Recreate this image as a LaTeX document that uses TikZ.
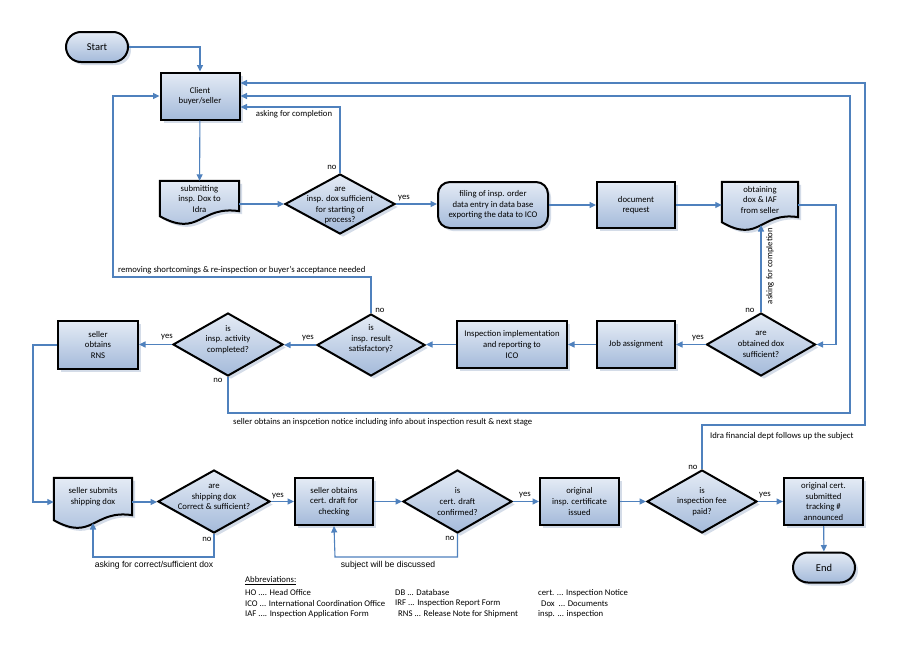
\documentclass[tikz,border=0pt]{standalone}
\usepackage{fontspec}
\setmainfont{Carlito}
\newfontfamily\arialf{Liberation Sans}
\usetikzlibrary{shapes.geometric,arrows.meta,shadows,calc}
\pgfdeclarelayer{background}
\pgfsetlayers{background,main}
\definecolor{conn}{HTML}{4F81BD}
\definecolor{ftop}{HTML}{E4EBF5}
\definecolor{fbot}{HTML}{A4BADA}
\definecolor{shd}{HTML}{D4DCE8}
% #1 node name, #2 half width
\newcommand\mydocshape[2]{%
  \path[shfill, draw=black, line width=2pt, line join=miter]
    (#1.north west) -- (#1.north east) -- ($(#1.south east)+(0,-5)$)
    .. controls ($(#1.south east)+(-#2,-11)$) and ($(#1.south west)+(#2,22)$) .. (#1.south west) -- cycle;}
\tikzset{
  txt/.style={font=\fontsize{8.7}{10.6}\selectfont, align=center, inner sep=0pt},
  lbl/.style={font=\fontsize{8.7}{10.6}\selectfont, inner sep=0pt},
  albl/.style={font=\arialf\fontsize{8.6}{10.6}\selectfont, inner sep=0pt},
  shfill/.style={top color=ftop, bottom color=fbot,
    drop shadow={shadow xshift=3pt, shadow yshift=-3pt, fill=shd, opacity=1}},
  procbox/.style={txt, rectangle, draw=black, line width=2pt, shfill,
    minimum width=79pt, minimum height=47pt},
  docnode/.style={txt, rectangle, inner sep=0pt, minimum width=79pt},
  dia/.style={diamond, draw=black, line width=2pt, shfill, inner sep=0pt,
    minimum width=110pt, minimum height=63pt},
  term/.style={rectangle, rounded corners=15pt, draw=black, line width=2pt, shfill,
    minimum width=62pt, minimum height=30pt, font=\fontsize{10.5}{12}\selectfont},
  conn/.style={draw=conn, line width=1.1pt, -{Triangle[length=6.5pt,width=6pt]}},
}
\begin{document}
\begin{tikzpicture}[x=1pt,y=-1pt]
\useasboundingbox (0,0) rectangle (900,656);

% top part
\node[term] (start) at (97,47) {Start};
\node[procbox] (client) at (200,96) {Client\\buyer/seller};
\node[docnode, minimum height=35pt,
  label={[txt,yshift=-0.5pt]center:{submitting\\insp. Dox to\\Idra}}] (sub) at (199.5,198.5) {};
\node[dia, minimum width=110pt, minimum height=60pt,
  label={[txt,yshift=-1.5pt]center:{are\\insp. dox sufficient\\for starting of\\process?}}] (dia1) at (340,204) {};
\node[procbox, rounded corners=12pt, minimum width=110pt, minimum height=46pt] (filing) at (493,205)
  {filing of insp. order\\data entry in data base\\exporting the data to ICO};
\node[procbox, minimum width=78pt, minimum height=46pt] (docreq) at (636,205) {document\\request};
\node[docnode, minimum width=76pt, minimum height=40pt,
  label={[txt,yshift=2pt]center:{obtaining\\dox \& IAF\\from seller}}] (obtain) at (760,202) {};

% middle row
\node[dia, minimum width=109pt,
  label={[txt]center:{are\\obtained dox\\sufficient?}}] (diaobt) at (761,344.5) {};
\node[procbox, minimum width=78pt] (job) at (636,344.5) {Job assignment};
\node[procbox, minimum width=110pt] (impl) at (512,344.5) {Inspection implementation\\and reporting to\\ICO};
\node[dia, minimum width=108pt, minimum height=62pt,
  label={[txt,yshift=6pt]center:{is\\insp. result\\satisfactory?}}] (diares) at (371,345) {};
\node[dia,
  label={[txt,yshift=5pt]center:{is\\insp. activity\\completed?}}] (diaact) at (228,344.5) {};
\node[procbox, minimum width=80pt, minimum height=48pt] (rns) at (98,345) {seller\\obtains\\RNS};

% bottom row
\node[docnode, minimum width=78pt, minimum height=42pt,
  label={[txt,yshift=2pt]center:{seller submits\\shipping dox}}] (ssub) at (93,499) {};
\node[dia, minimum width=112pt,
  label={[txt,yshift=4.5pt]center:{are\\shipping dox\\Correct \& sufficient?}}] (sdia) at (214,501.5) {};
\node[procbox, minimum width=78pt] (cobt) at (334,501.5) {seller obtains\\cert. draft for\\checking};
\node[dia, minimum width=109pt,
  label={[txt]center:{is\\cert. draft\\confirmed?}}] (cdia) at (457.5,501.5) {};
\node[procbox] (orig) at (579.5,501.5) {original\\insp. certificate\\issued};
\node[dia,
  label={[txt]center:{is\\inspection fee\\paid?}}] (fdia) at (702,501.5) {};
\node[procbox] (final) at (823.5,501.5) {original cert.\\submitted\\tracking \#\\announced};
\node[term] (end) at (824,567.5) {End};

\begin{pgfonlayer}{background}
\fill[white] (0,0) rectangle (900,656);
\mydocshape{sub}{39.5}
\mydocshape{obtain}{38}
\mydocshape{ssub}{39}
\end{pgfonlayer}

% helper coordinates
\coordinate (r1) at (836,344.5);
\coordinate (l1) at (113,277);
\coordinate (l2) at (33,502);
\coordinate (r2) at (850,413);
\coordinate (r3) at (865,425);
\coordinate (b1) at (93,557);
\coordinate (b2) at (335,557);
\coordinate (obin) at (761,225);
\coordinate (ssin) at (93,523);

% connectors
\draw[conn] (start) -| (client);
\draw[conn] (client) -- (sub);
\draw[conn] (sub.east |- dia1.west) -- (dia1.west);
\draw[conn] (dia1.north) |- ([yshift=-11pt]client.east);
\draw[conn] (dia1.east) -- (filing.west |- dia1.east);
\draw[conn] (filing) -- (docreq);
\draw[conn] (docreq.east) -- (obtain.west |- docreq.east);
\draw[conn] (obtain.east |- docreq.east) -| (r1) -- (diaobt.east);
\draw[conn] (diaobt.north) -- (obin);
\draw[conn] (diaobt.west) -- (job.east);
\draw[conn] (job) -- (impl);
\draw[conn] (impl.west) -- (diares.east |- impl.west);
\draw[conn] (diares.north) |- (l1) |- (client.west);
\draw[conn] (diares.west) -- (diaact.east |- diares.west);
\draw[conn] (diaact.west) -- (rns.east |- diaact.west);
\draw[conn] (rns.west) -| (l2) -- (ssub.west |- l2);
\draw[conn] (diaact.south) |- (r2) |- (client.east);
\draw[conn] (ssub.east |- l2) -- (sdia.west |- l2);
\draw[conn] (sdia.east) -- (cobt.west |- sdia.east);
\draw[conn] (sdia.south) |- (b1) -- (ssin);
\draw[conn] (cobt) -- (cdia);
\draw[conn] (cdia.south) |- (b2) -- (cobt.south);
\draw[conn] (cdia) -- (orig);
\draw[conn] (orig) -- (fdia);
\draw[conn] (fdia) -- (final);
\draw[conn] (fdia.north) |- (r3) |- ([yshift=13pt]client.east);
\draw[conn] (final) -- (end);

% connector labels
\node[lbl] (n1) at (332,167) {no};
\node[lbl] (a1) at (294,114) {asking for completion};
\node[lbl] (y1) at (404,198) {yes};
\node[lbl, rotate=90] (a2) at (770,266) {asking for completion};
\node[lbl] (n2) at (750,310) {no};
\node[lbl] (y2) at (698,338) {yes};
\node[lbl] (n3) at (380,310) {no};
\node[lbl, anchor=west] (rm) at (118,270) {removing shortcomings \& re-inspection or buyer’s acceptance needed};
\node[lbl] (y3) at (308,338) {yes};
\node[lbl] (y4) at (167,337) {yes};
\node[lbl] (n4) at (218,380) {no};
\node[lbl, anchor=west] (so) at (233,422) {seller obtains an inspcetion notice including info about inspection result \& next stage};
\node[lbl, anchor=west] (idra) at (710,436) {Idra financial dept follows up the subject};
\node[lbl] (n5) at (693,467) {no};
\node[lbl] (y5) at (278,496) {yes};
\node[lbl] (n6) at (207,539) {no};
\node[albl] (ac) at (154,565) {asking for correct/sufficient dox};
\node[albl] (sw) at (388,565) {subject will be discussed};
\node[lbl] (n7) at (450,538) {no};
\node[lbl] (y6) at (525,495) {yes};
\node[lbl] (y7) at (765,495) {yes};

% abbreviations
\node[lbl, anchor=west] (ab0) at (245,581) {\underline{Abbreviations:}};
\node[lbl, anchor=west] (ab1) at (245,593) {HO .... Head Office};
\node[lbl, anchor=west] (ab2) at (245,603.5) {ICO ... International Coordination Office};
\node[lbl, anchor=west] (ab3) at (245,614) {IAF .... Inspection Application Form};
\node[lbl, anchor=west] (ab4) at (395,593) {DB ... Database};
\node[lbl, anchor=west] (ab5) at (395,603.5) {IRF ... Inspection Report Form};
\node[lbl, anchor=west] (ab6) at (398,614) {RNS ... Release Note for Shipment};
\node[lbl, anchor=west] (ab7) at (538,593) {cert. ... Inspection Notice};
\node[lbl, anchor=west] (ab8) at (541,603.5) {Dox\ \ ... Documents};
\node[lbl, anchor=west] (ab9) at (538,614) {insp. ... inspection};
\end{tikzpicture}
\end{document}
